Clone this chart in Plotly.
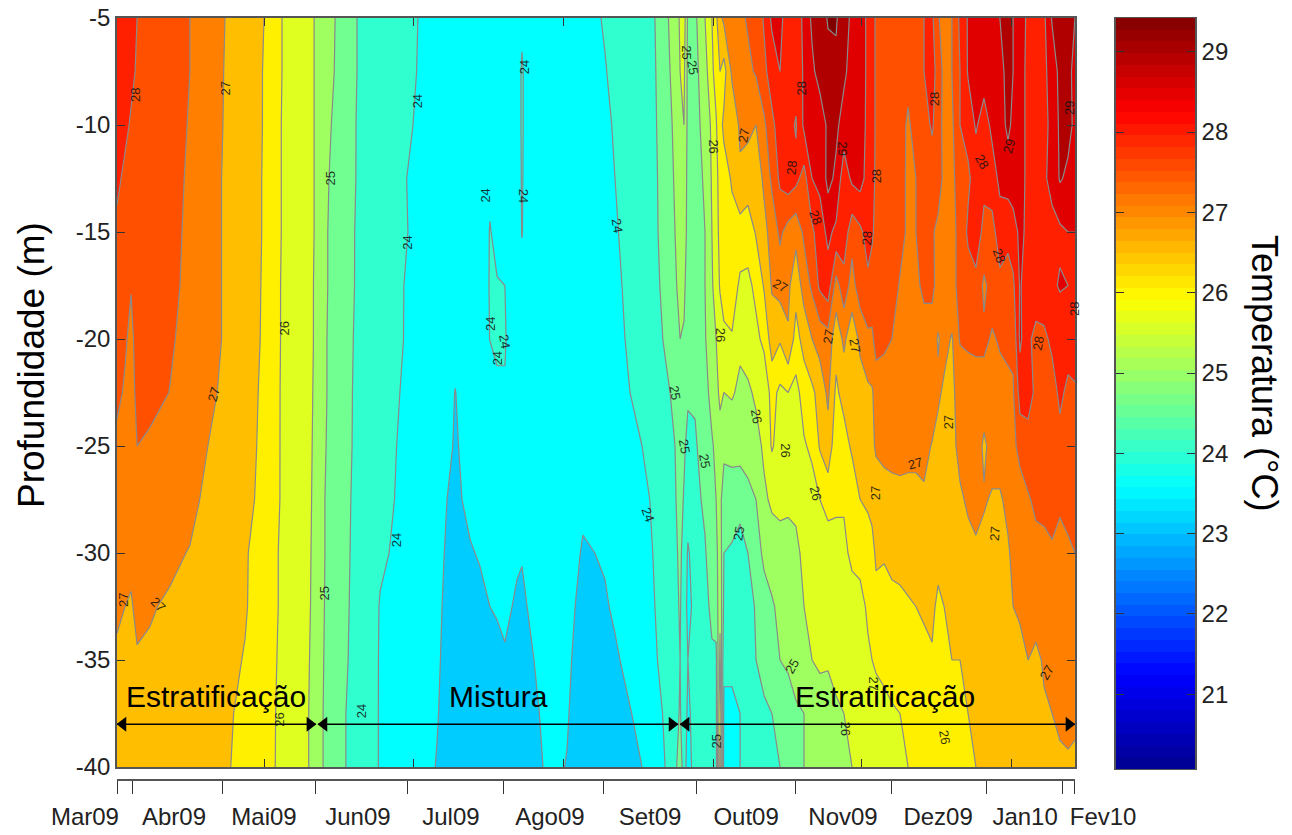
import numpy as np
import plotly.graph_objects as go

W, H = 1292, 835
# profundidades (m)
profundidades = [-5, -7.5, -10, -12.5, -15, -17.5, -20, -22.5, -25, -27.5, -30, -32.5, -35, -37.5, -40]

# (dia da serie, temperatura em cada profundidade)
temp_mar_mai = [
 (0.0,[28.4,28.2,28.15,28.1,27.9,27.8,27.75,27.6,27.4,27.2,27.15,27.05,26.95,26.85,26.75]),
 (2.7,[28.2,28.15,28.1,27.9,27.85,27.75,27.55,27.45,27.35,27.2,27.1,27.0,26.95,26.85,26.75]),
 (4.7,[28.15,28.1,27.95,27.85,27.8,27.52,27.4,27.35,27.3,27.15,27.05,26.98,26.95,26.85,26.75]),
 (6.7,[28.0,27.95,27.9,27.85,27.8,27.7,27.65,27.6,27.5,27.2,27.1,27.05,26.98,26.85,26.75]),
 (11.0,[27.9,27.88,27.85,27.82,27.8,27.78,27.75,27.65,27.42,27.2,27.12,27.03,26.95,26.85,26.75]),
 (17.7,[27.7,27.7,27.68,27.65,27.62,27.6,27.55,27.49,27.35,27.2,27.08,26.95,26.85,26.8,26.75]),
 (24.3,[27.5,27.5,27.47,27.44,27.42,27.4,27.36,27.3,27.22,27.12,26.98,26.88,26.8,26.76,26.72]),
 (30.3,[27.25,27.24,27.22,27.2,27.2,27.2,27.2,27.12,27.0,26.9,26.85,26.78,26.72,26.68,26.66]),
 (36.0,[27.0,26.98,26.97,26.95,26.95,26.95,26.95,26.9,26.85,26.8,26.72,26.66,26.6,26.56,26.54]),
 (42.7,[26.74,26.73,26.72,26.72,26.72,26.7,26.7,26.68,26.66,26.62,26.54,26.53,26.48,26.42,26.4]),
 (49.0,[26.5,26.48,26.48,26.47,26.47,26.46,26.45,26.42,26.4,26.38,26.3,26.3,26.25,26.22,26.2]),
 (55.0,[26.0,26.0,25.98,25.98,25.98,25.96,25.96,25.95,25.95,25.95,25.92,25.92,25.9,25.88,25.88]),
 (60.3,[25.75,25.75,25.75,25.75,25.74,25.74,25.73,25.73,25.72,25.72,25.71,25.71,25.7,25.7,25.7]),
 (65.7,[25.5,25.5,25.5,25.5,25.5,25.49,25.49,25.48,25.47,25.46,25.45,25.44,25.42,25.4,25.4]),
 (69.3,[25.24,25.22,25.17,25.1,25.07,25.07,25.05,25.05,25.03,25.0,25.0,24.98,24.95,24.92,24.92]),
 (72.7,[25.0,24.98,24.9,24.85,24.82,24.82,24.8,24.8,24.77,24.75,24.74,24.72,24.7,24.68,24.66]),
 (76.3,[24.75,24.74,24.7,24.68,24.65,24.64,24.62,24.6,24.6,24.58,24.56,24.55,24.53,24.5,24.5]),
 (80.0,[24.5,24.5,24.48,24.48,24.46,24.46,24.44,24.43,24.42,24.4,24.4,24.38,24.38,24.36,24.36]),
 (87.7,[24.3,24.28,24.25,24.23,24.22,24.18,24.15,24.13,24.1,24.08,24.05,23.98,23.97,23.97,23.97]),
 (94.3,[24.15,24.13,24.08,24.03,24.04,24.02,24.02,24.0,23.98,23.97,23.94,23.92,23.92,23.92,23.9]),
 (100.3,[24.0,23.99,23.97,23.95,23.95,23.93,23.92,23.9,23.88,23.85,23.82,23.8,23.75,23.72,23.68]),
]
temp_jun_ago = [
 (106.7,[23.9,23.88,23.85,23.82,23.8,23.78,23.75,23.72,23.7,23.67,23.63,23.58,23.55,23.52,23.48]),
 (110.0,[23.9,23.88,23.85,23.82,23.8,23.76,23.7,23.65,23.6,23.5,23.45,23.42,23.4,23.38,23.35]),
 (112.7,[23.9,23.88,23.85,23.82,23.8,23.75,23.62,23.49,23.46,23.42,23.38,23.36,23.35,23.33,23.3]),
 (115.0,[23.9,23.88,23.85,23.82,23.8,23.75,23.65,23.58,23.54,23.5,23.44,23.4,23.36,23.33,23.3]),
 (117.7,[23.92,23.9,23.88,23.85,23.82,23.78,23.68,23.6,23.56,23.53,23.49,23.43,23.38,23.34,23.3]),
 (121.0,[23.96,23.92,23.9,23.87,23.85,23.8,23.72,23.63,23.58,23.54,23.51,23.47,23.42,23.36,23.3]),
 (124.3,[23.92,23.97,23.94,23.96,24.01,24.02,24.01,23.7,23.6,23.56,23.53,23.5,23.44,23.38,23.32]),
 (126.7,[23.9,23.92,23.92,23.93,23.95,24.01,24.03,23.97,23.62,23.57,23.54,23.51,23.47,23.4,23.34]),
 (129.3,[23.9,23.9,23.9,23.9,23.95,24.0,24.02,23.98,23.62,23.57,23.54,23.52,23.49,23.42,23.36]),
 (131.7,[23.9,23.9,23.9,23.9,23.9,23.92,23.9,23.72,23.6,23.56,23.53,23.5,23.48,23.42,23.36]),
 (133.3,[23.88,23.88,23.88,23.88,23.88,23.86,23.84,23.7,23.6,23.55,23.51,23.49,23.45,23.42,23.38]),
 (135.0,[23.95,24.03,24.03,24.02,24.01,23.92,23.85,23.7,23.6,23.55,23.51,23.47,23.45,23.42,23.38]),
 (136.7,[23.9,23.9,23.9,23.9,23.9,23.88,23.82,23.7,23.58,23.54,23.52,23.5,23.47,23.44,23.4]),
 (139.0,[23.9,23.9,23.9,23.88,23.88,23.86,23.8,23.7,23.6,23.56,23.55,23.53,23.5,23.47,23.44]),
 (142.0,[23.9,23.9,23.88,23.88,23.86,23.84,23.78,23.7,23.62,23.6,23.58,23.56,23.54,23.52,23.5]),
 (146.0,[23.88,23.88,23.88,23.86,23.85,23.82,23.76,23.7,23.62,23.6,23.58,23.57,23.57,23.55,23.54]),
 (150.0,[23.9,23.88,23.88,23.86,23.85,23.82,23.76,23.68,23.6,23.56,23.54,23.54,23.54,23.52,23.49]),
 (152.7,[23.9,23.9,23.88,23.86,23.85,23.82,23.75,23.66,23.6,23.55,23.52,23.5,23.47,23.44,23.42]),
 (155.3,[23.92,23.9,23.88,23.86,23.85,23.82,23.75,23.66,23.58,23.52,23.49,23.47,23.44,23.42,23.4]),
 (159.3,[23.97,23.92,23.9,23.88,23.85,23.82,23.75,23.66,23.6,23.54,23.5,23.46,23.42,23.4,23.36]),
 (162.7,[24.02,23.99,23.94,23.9,23.85,23.82,23.78,23.7,23.6,23.55,23.52,23.48,23.44,23.4,23.36]),
 (166.0,[24.08,24.05,24.03,24.0,23.97,23.93,23.9,23.8,23.68,23.6,23.56,23.53,23.47,23.42,23.38]),
 (171.0,[24.2,24.17,24.15,24.12,24.1,24.08,24.05,24.0,23.82,23.72,23.66,23.62,23.56,23.49,23.42]),
 (175.0,[24.3,24.28,24.25,24.23,24.2,24.18,24.15,24.1,24.0,23.88,23.8,23.74,23.68,23.56,23.5]),
 (179.3,[24.5,24.47,24.45,24.43,24.42,24.38,24.33,24.2,24.15,24.08,24.04,24.0,23.96,23.85,23.75]),
]
temp_set_nov = [
 (182.7,[24.85,24.8,24.75,24.7,24.68,24.63,24.55,24.4,24.3,24.25,24.2,24.17,24.12,24.05,24.0]),
 (186.0,[25.3,25.2,25.1,25.05,25.0,24.95,24.85,24.6,24.5,24.45,24.4,24.35,24.3,24.3,24.3]),
 (187.7,[25.55,25.5,25.4,25.3,25.2,25.1,25.0,24.9,24.8,24.7,24.6,24.55,24.5,24.55,24.9]),
 (189.0,[25.75,25.6,25.5,25.4,25.3,25.1,24.95,24.8,24.6,24.45,24.3,24.2,24.15,24.15,24.1]),
 (190.3,[24.9,24.85,24.85,24.8,24.8,24.75,24.7,24.6,24.3,24.2,23.95,23.9,24.0,23.95,23.9]),
 (192.7,[24.9,24.85,24.85,24.85,24.8,24.8,24.7,24.55,24.45,24.35,24.2,24.1,24.1,24.1,24.1]),
 (196.0,[25.5,25.3,25.15,25.05,25.0,25.0,24.95,24.85,24.7,24.6,24.45,24.3,24.2,24.2,24.2]),
 (198.3,[26.0,25.9,25.6,25.55,25.5,25.45,25.4,25.15,24.95,24.9,24.8,24.65,24.4,24.3,24.3]),
 (199.7,[26.4,26.2,25.95,25.85,25.8,25.7,25.5,25.35,25.1,25.0,24.85,24.7,24.4,24.4,24.35]),
 (201.0,[26.9,26.5,26.35,26.2,26.15,26.05,25.7,25.6,25.3,25.2,25.3,25.4,25.6,25.9,26.1]),
 (202.3,[27.1,26.3,26.6,26.3,26.3,26.2,25.9,25.5,25.2,24.6,24.5,24.4,24.1,23.9,23.8]),
 (205.0,[27.25,27.1,26.6,26.55,26.35,26.3,25.95,25.55,25.2,24.7,24.45,24.3,24.05,23.95,23.9]),
 (207.7,[27.4,27.2,27.1,26.9,26.3,25.9,25.6,25.4,25.15,24.75,24.2,24.1,24.1,24.0,24.0]),
 (210.3,[27.55,27.4,27.1,26.8,26.2,25.9,25.8,25.4,25.15,24.9,24.5,24.3,24.2,24.15,24.15]),
 (213.0,[27.7,27.55,27.0,26.7,26.55,26.1,25.9,25.6,25.3,25.0,24.8,24.55,24.5,24.25,24.25]),
 (215.7,[28.05,27.9,27.4,27.1,26.85,26.55,26.1,25.7,25.6,25.4,25.1,24.8,24.7,24.4,24.3]),
 (218.3,[28.6,28.2,27.9,27.6,27.2,27.05,26.75,26.15,26.05,25.6,25.2,24.95,24.85,24.5,24.4]),
 (221.0,[28.6,28.5,28.2,28.1,27.6,27.2,26.55,25.9,25.8,25.7,25.2,25.1,25.0,24.55,24.5]),
 (223.7,[28.3,28.3,28.2,28.3,27.3,27.1,26.95,26.0,25.9,25.6,25.3,25.2,25.1,24.7,24.85]),
 (226.3,[28.25,28.25,27.95,28.15,27.15,26.7,26.3,25.85,25.8,25.6,25.4,25.4,25.3,24.9,24.9]),
 (229.0,[28.6,28.55,28.6,27.8,27.6,27.2,26.7,26.2,25.95,25.8,25.6,25.5,25.4,25.0,25.0]),
 (231.7,[29.1,28.9,28.6,28.5,27.9,27.6,27.0,26.4,26.1,25.8,25.8,25.6,25.5,25.1,25.05]),
 (234.3,[29.2,29.2,28.7,28.6,28.3,28.1,27.2,26.7,26.55,26.0,25.9,25.7,25.6,25.2,25.2]),
 (237.0,[29.55,29.3,29.1,29.15,28.6,28.3,27.3,27.1,26.8,26.2,25.7,25.8,25.55,25.3,25.25]),
 (239.7,[29.55,29.4,29.1,28.9,28.4,27.3,26.7,26.4,26.2,26.1,25.8,25.9,25.7,25.4,25.3]),
 (242.3,[29.2,29.1,28.8,28.2,28.3,27.8,27.1,26.7,26.25,26.05,25.9,25.9,25.7,25.5,25.4]),
 (245.0,[28.9,28.8,28.7,28.6,27.7,27.3,26.7,26.75,26.6,26.1,26.1,25.8,25.75,25.55,25.5]),
 (247.7,[28.75,28.75,28.7,28.7,27.9,27.8,27.1,26.8,26.7,26.5,26.1,25.9,25.85,25.65,25.55]),
 (250.3,[28.4,28.4,28.4,28.3,28.2,27.9,27.4,26.9,26.8,26.6,26.2,26.05,25.95,25.8,25.6]),
 (251.7,[28.15,28.15,28.15,28.1,28.05,27.85,27.4,26.95,26.85,26.7,26.3,26.1,26.0,25.85,25.65]),
]
temp_dez_fev = [
 (253.0,[27.95,27.95,27.95,27.95,27.9,27.9,27.7,27.2,27.1,26.6,26.6,26.3,26.05,25.85,25.7]),
 (255.7,[27.85,27.85,27.85,27.85,27.85,27.8,27.6,27.25,27.2,26.7,26.55,26.3,26.1,25.9,25.75]),
 (258.3,[27.8,27.8,27.8,27.8,27.8,27.75,27.5,27.3,27.25,26.75,26.6,26.4,26.2,25.95,25.8]),
 (261.0,[27.8,27.8,27.75,27.7,27.7,27.45,27.45,27.3,27.25,26.8,26.65,26.4,26.1,26.0,25.9]),
 (263.7,[27.85,27.7,27.4,27.4,27.4,27.4,27.3,27.25,27.15,26.85,26.7,26.45,26.05,26.1,26.0]),
 (266.3,[27.9,27.85,27.75,27.5,27.5,27.4,27.25,27.2,27.1,26.9,26.8,26.5,26.35,26.2,26.1]),
 (269.0,[28.0,28.0,27.85,27.75,27.7,27.6,27.3,27.25,27.1,26.95,26.9,26.55,26.4,26.25,26.2]),
 (271.7,[28.1,28.1,28.05,27.8,27.55,27.6,27.3,27.2,26.98,26.9,26.8,26.6,26.45,26.3,26.25]),
 (273.7,[27.55,27.9,27.8,27.7,27.4,27.35,26.95,27.1,26.8,26.8,26.65,26.4,26.4,26.3,26.3]),
 (275.7,[27.3,27.3,27.3,27.4,27.3,27.3,27.2,26.9,26.8,26.85,26.8,26.5,26.35,26.35,26.35]),
 (278.3,[27.5,27.5,27.4,27.4,27.4,27.4,26.95,26.95,26.9,26.9,26.8,26.65,26.5,26.4,26.4]),
 (281.0,[28.1,28.0,28.0,27.7,27.6,27.6,27.55,27.1,27.1,26.95,26.85,26.7,26.5,26.45,26.45]),
 (283.7,[28.55,28.55,28.2,27.9,28.1,27.75,27.6,27.2,27.2,27.05,26.9,26.75,26.55,26.5,26.5]),
 (286.3,[28.6,28.6,28.55,28.25,28.2,27.9,27.6,27.3,27.3,27.1,26.95,26.8,26.6,26.55,26.5]),
 (289.0,[28.7,28.7,28.3,28.1,27.9,27.4,27.6,27.3,26.9,27.05,26.85,26.85,26.7,26.6,26.55]),
 (291.7,[28.8,28.8,28.6,28.3,27.8,27.7,27.45,27.3,27.2,26.95,26.9,26.85,26.65,26.6,26.6]),
 (294.3,[29.0,28.9,28.8,28.6,28.3,27.85,27.55,27.35,27.2,26.95,26.9,26.85,26.8,26.7,26.65]),
 (297.0,[29.2,29.1,29.1,28.75,28.1,27.85,27.6,27.4,27.3,27.1,26.95,26.9,26.8,26.75,26.65]),
 (298.7,[29.0,29.0,28.9,28.75,28.3,27.9,27.6,27.45,27.35,27.25,27.1,27.0,26.95,26.85,26.75]),
 (301.0,[28.95,28.8,28.8,28.8,28.6,28.55,28.6,28.2,27.7,27.2,27.1,27.05,26.9,26.85,26.8]),
 (303.7,[28.3,28.3,28.3,28.3,28.4,28.2,28.1,28.2,27.8,27.45,27.2,27.1,27.0,26.9,26.85]),
 (306.3,[28.4,28.4,28.4,28.4,28.3,28.3,27.85,27.9,27.7,27.6,27.35,27.2,26.9,26.85,26.9]),
 (309.0,[28.4,28.4,28.4,28.45,28.3,28.3,27.9,27.8,27.75,27.7,27.3,27.3,27.05,26.95,26.9]),
 (311.7,[29.05,28.7,28.6,28.6,28.4,28.4,28.1,27.8,27.8,27.8,27.4,27.35,27.1,27.0,26.95]),
 (314.3,[29.2,29.15,29.1,29.05,28.4,28.55,28.15,28.1,27.85,27.55,27.4,27.3,27.25,27.05,26.95]),
 (317.0,[29.2,29.2,29.15,28.9,28.5,28.5,28.2,27.9,27.8,27.6,27.45,27.4,27.35,27.1,26.95]),
 (319.3,[29.0,28.8,28.9,28.7,28.5,28.45,28.2,27.95,27.85,27.65,27.5,27.45,27.3,27.05,26.95]),
]
colunas = temp_mar_mai + temp_jun_ago + temp_set_nov + temp_dez_fev
dias = [c[0] for c in colunas]
z = np.array([c[1] for c in colunas]).T

cores_faixas = ["#00CCFF","#00FFFF","#30FFD0","#70FF90","#A0FF60","#DFFF20","#FFF000","#FFBF00",
                "#FF8000","#FF5000","#FF2000","#E00000","#B00000","#800000"]
niveis_inicio, niveis_fim, niveis_passo = 23.5, 29.5, 0.5

meses_rotulos = ["Mar09","Abr09","Mai09","Jun09","Jul09","Ago09","Set09","Out09","Nov09","Dez09","Jan10","Fev10"]
meses_rotulos_dia = [-10.7,19,49,80.3,111.3,144.3,177.7,209.7,242,273.7,302.7,328.7]
regua_dias = [0,5.3,35.3,66.3,96.9,128.7,162,193.3,226,258,289.7,315.3,319.3]
ticks_internos = [49,98.7,148.7,198.7,248.3,298.3]
prof_ticks = [-5,-10,-15,-20,-25,-30,-35,-40]
prof_rotulos = ["-5","-10","-15","-20","-25","-30","-35","-40"]
cb_ticks = [21,22,23,24,25,26,27,28,29]
cb_min, cb_max = 20.07, 29.42

# rótulos das isolinhas: dia, profundidade, texto, ângulo
iso_dia = [6,36.3,55.7,71,100.3,97,32.3,2,13.7,69.3,93,123,124.3,126.7,129.3,135.7,135.3,166.7,177,186,189.3,195.7,190,192,199,209,201,213.3,207.3,223,233,225,221,228.3,225,233,241.7,253,250,237.3,246,252.7,266,277.3,272.3,288.3,297.3,294,307,317.7,319,292.7,310,252,243,276,54.3,81.3,199.7]
iso_prof = [-8.6,-8.3,-19.5,-12.5,-8.9,-15.5,-22.6,-32.2,-32.4,-31.9,-29.4,-13.3,-19.3,-20.9,-20.1,-7.3,-13.3,-14.7,-28.2,-22.5,-25,-25.7,-6.6,-7.3,-11.0,-10.5,-19.8,-23.6,-29.1,-25.2,-27.2,-35.3,-17.5,-8.3,-12,-14.3,-11.1,-12.4,-15.3,-19.9,-20.3,-27.2,-25.8,-23.9,-8.8,-11.7,-11,-16.1,-20.2,-9.2,-18.6,-29.1,-35.6,-36.1,-38.2,-38.6,-37.8,-37.4,-38.8]
iso_txt = ["28","27","26","25","24","24","27","27","27","25","24","24","24","24","24","24","24","24","24","25","25","25","25","25","26","27","26","26","25","26","26","25","27","28","28","28","29","28","28","27","27","27","27","27","28","28","29","28","28","29","28","27","27","27","26","26","26","24","25"]
iso_ang = [-90,-90,-90,-90,-90,-90,-75,-90,45,-90,-90,-90,-90,-90,80,-90,90,80,70,80,80,80,90,80,90,-80,90,80,-80,90,75,-60,30,-90,-85,70,90,-90,-85,-80,80,-90,-15,-90,-90,60,-75,70,-80,-90,-90,-85,-60,90,90,80,-90,-90,-90]

textos = [("Estratificação",33),("Mistura",127),("Estratificação",256)]
texto_prof = -36.7
setas = [(0,66.3),(67,187),(187.7,319.3)]
seta_prof = -38

fx = lambda a,b: [a/W,b/W]
fy = lambda top,bot: [(H-bot)/H,(H-top)/H]

fig = go.Figure()
escala = [[i/(len(cores_faixas)-1),c] for i,c in enumerate(cores_faixas)]
fig.add_trace(go.Contour(x=dias,y=profundidades,z=z,colorscale=escala,autocontour=False,showscale=False,
    contours=dict(start=niveis_inicio,end=niveis_fim,size=niveis_passo,coloring="fill",showlines=True),
    line=dict(color="#8a8a8a",width=1.2,smoothing=0),hoverinfo="skip"))

for a,b in setas:
    fig.add_trace(go.Scatter(x=[a,b],y=[seta_prof,seta_prof],mode="lines",line=dict(color="black",width=1.5),showlegend=False,hoverinfo="skip"))
    fig.add_trace(go.Scatter(x=[a+2,b-2],y=[seta_prof,seta_prof],mode="markers",showlegend=False,hoverinfo="skip",
        marker=dict(symbol=["triangle-left","triangle-right"],size=13,color="black",line=dict(width=0))))

# régua inferior e eixo dos rótulos dos meses
fig.add_trace(go.Scatter(x=[0],y=[0],xaxis="x2",yaxis="y2",mode="markers",marker=dict(opacity=0),showlegend=False,hoverinfo="skip"))
fig.add_trace(go.Scatter(x=[0],y=[0],xaxis="x4",yaxis="y4",mode="markers",marker=dict(opacity=0),showlegend=False,hoverinfo="skip"))

# barra de cores
jet = [[0,"#00008F"],[.125,"#0000FF"],[.375,"#00FFFF"],[.625,"#FFFF00"],[.875,"#FF0000"],[1,"#800000"]]
cb_y = np.linspace(cb_min,cb_max,65)
cb_y = (cb_y[:-1]+cb_y[1:])/2
fig.add_trace(go.Heatmap(x=[0,1],y=cb_y,z=[[v,v] for v in cb_y],zmin=cb_min,zmax=cb_max,colorscale=jet,showscale=False,
    xaxis="x3",yaxis="y3",hoverinfo="skip"))

eixo = dict(color="#333333",linecolor="#555555",linewidth=1.5,showgrid=False,zeroline=False,automargin=False)
fig.update_layout(width=W,height=H,autosize=False,margin=dict(l=0,r=0,t=0,b=0),paper_bgcolor="white",plot_bgcolor="rgba(0,0,0,0)",
    showlegend=False,font=dict(family="Liberation Sans, Arial, sans-serif",color="#222222"),
    xaxis=dict(eixo,domain=fx(117,1075),range=[0,319.33],tickvals=ticks_internos,ticks="inside",ticklen=8,tickcolor="#333333",
               mirror="ticks",showline=True,showticklabels=False,anchor="y"),
    yaxis=dict(eixo,domain=fy(18,767),range=[-40,-5],tickvals=prof_ticks,ticktext=prof_rotulos,ticks="inside",ticklen=8,tickcolor="#333333",
               mirror="ticks",showline=True,tickfont=dict(size=24,color="#222222"),anchor="x"),
    xaxis2=dict(eixo,domain=fx(117,1075),range=[0,319.33],tickvals=regua_dias,ticks="outside",ticklen=13,tickcolor="#333333",
                showticklabels=False,showline=True,anchor="y2",side="bottom"),
    yaxis2=dict(domain=fy(775,779),range=[-1,1],visible=False,anchor="x2",automargin=False),
    xaxis4=dict(domain=[0,1],range=[-39,(W-117)/3],tickvals=meses_rotulos_dia,ticktext=meses_rotulos,ticks="",showgrid=False,zeroline=False,automargin=False,tickangle=0,
                showline=False,anchor="y4",side="bottom",tickfont=dict(size=24,color="#222222")),
    yaxis4=dict(domain=fy(795,800),range=[-1,1],visible=False,anchor="x4",automargin=False),
    xaxis3=dict(domain=fx(1116,1195),range=[0,1],showticklabels=False,ticks="",showgrid=False,zeroline=False,automargin=False,showline=True,linecolor="#555555",mirror=True,anchor="y3"),
    yaxis3=dict(eixo,domain=fy(18,769),range=[cb_min,cb_max],side="right",tickvals=cb_ticks,ticks="inside",ticklen=8,tickcolor="#333333",
                mirror="ticks",showline=True,tickfont=dict(size=24,color="#222222"),anchor="x3"),
)
anots = []
for t,d,a in zip(iso_txt,zip(iso_dia,iso_prof),iso_ang):
    anots.append(dict(x=d[0],y=d[1],xref="x",yref="y",text=t,textangle=a,showarrow=False,font=dict(size=13,color="#111111"),opacity=.85))
for t,d in textos:
    anots.append(dict(x=d,y=texto_prof,xref="x",yref="y",text=t,showarrow=False,font=dict(size=30,color="black")))
anots.append(dict(x=31/W,y=(H-365)/H,xref="paper",yref="paper",xanchor="center",yanchor="middle",text="Profundidade (m)",textangle=-90,showarrow=False,font=dict(size=37,color="black")))
anots.append(dict(x=1265/W,y=(H-373)/H,xref="paper",yref="paper",xanchor="center",yanchor="middle",text="Temperatura (°C)",textangle=90,showarrow=False,font=dict(size=36,color="black")))
fig.update_layout(annotations=anots)
fig.write_html("out.html",config={"displayModeBar":False},post_script="document.body.style.margin='0';document.body.style.overflow='hidden';")
